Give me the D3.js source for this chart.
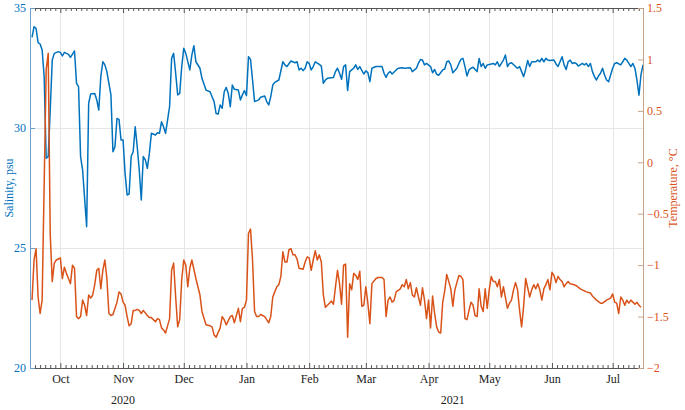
<!DOCTYPE html>
<html>
<head>
<meta charset="utf-8">
<script src="https://cdn.jsdelivr.net/npm/d3@7"></script>
<style>
body { margin: 0; background: #fff; }
text { font-family: "Liberation Serif", "Times New Roman", serif; }
</style>
</head>
<body>
<div id="chart"></div>
<script>

// day offsets are counted from 16 Sep 2020
var startDate = new Date(2020, 8, 16),
endDate = new Date(2021, 6, 16);

// [day, salinity psu]
var salinity = [[1,33.78],[2,34.22],[3,34.15],[4,33.56],[5,33.5],[6,33.25],[7,32.14],[8,28.74],[9,28.81],[10,30.75],[11,32.83],[12,33.11],[14,33.18],[15,33.15],[16,33.0],[17,33.15],[19,33.07],[20,32.94],[22,33.21],[23,31.86],[24,31.72],[25,28.81],[26,28.25],[28,25.89],[29,31.03],[30,31.42],[32,31.44],[33,31.17],[34,30.75],[35,32.14],[36,32.76],[37,32.63],[38,32.35],[39,31.86],[40,31.38],[41,29.01],[42,29.22],[43,30.4],[44,30.36],[45,29.5],[46,29.5],[47,28.11],[48,27.21],[49,27.25],[50,28.81],[51,29.01],[52,30.05],[53,29.22],[54,28.25],[55,27.0],[56,28.81],[57,28.67],[58,28.32],[59,28.94],[60,29.78],[62,29.71],[63,29.8],[64,29.78],[65,30.26],[66,30.05],[67,29.78],[68,30.33],[69,30.89],[70,32.9],[71,33.11],[72,32.28],[73,31.38],[74,31.44],[75,32.56],[76,33.32],[77,33.11],[79,32.42],[80,33.04],[81,33.43],[82,32.76],[84,32.49],[85,32.07],[87,31.58],[89,31.51],[90,31.3],[91,31.1],[92,30.6],[93,30.58],[94,30.96],[95,30.82],[96,31.51],[97,31.69],[98,31.44],[99,30.89],[100,31.79],[101,31.61],[103,31.58],[104,31.17],[105,31.38],[106,31.56],[107,31.35],[108,32.97],[109,32.86],[110,32.0],[111,31.1],[113,31.17],[114,31.28],[116,31.33],[117,31.1],[118,30.96],[119,31.31],[120,31.79],[121,31.9],[123,32.0],[125,32.76],[126,32.63],[127,32.56],[129,32.79],[131,32.72],[132,32.76],[133,32.42],[134,32.49],[135,32.39],[136,32.49],[137,32.76],[138,32.69],[139,32.42],[140,32.56],[141,32.76],[143,32.65],[144,32.58],[145,31.86],[146,32.0],[147,32.07],[150,32.1],[151,32.35],[152,32.49],[153,32.28],[154,32.03],[155,32.56],[156,32.63],[157,31.56],[158,32.35],[159,32.42],[160,32.49],[161,32.63],[162,32.44],[163,32.56],[165,32.25],[166,32.38],[167,32.31],[168,31.93],[169,32.49],[171,32.56],[174,32.56],[175,32.28],[176,32.11],[177,32.28],[178,32.35],[179,32.25],[181,32.42],[182,32.49],[184,32.51],[185,32.49],[188,32.51],[189,32.35],[191,32.49],[192,32.7],[193,32.85],[194,32.83],[195,32.63],[196,32.69],[198,32.56],[199,32.3],[200,32.44],[201,32.24],[202,32.2],[204,32.42],[205,32.46],[206,32.76],[207,32.79],[208,32.63],[209,32.3],[211,32.49],[212,32.69],[213,32.86],[214,32.9],[215,32.56],[216,32.17],[217,32.42],[218,32.49],[219,32.53],[221,32.35],[222,32.9],[223,32.56],[224,32.69],[225,32.49],[226,32.63],[227,32.65],[229,32.69],[230,32.63],[231,32.76],[232,32.56],[234,32.83],[235,33.04],[236,32.56],[237,32.69],[238,32.72],[240,32.56],[241,32.49],[242,32.56],[243,32.35],[244,32.14],[245,32.44],[246,32.81],[247,32.56],[248,32.76],[250,32.76],[251,32.83],[252,32.76],[253,32.9],[254,32.76],[255,32.9],[256,32.83],[257,32.81],[259,32.83],[260,32.67],[261,32.56],[262,32.76],[263,32.97],[264,32.63],[265,32.44],[266,32.76],[267,32.83],[268,32.69],[269,32.72],[270,32.69],[271,32.58],[273,32.69],[274,32.63],[275,32.69],[276,32.56],[277,32.69],[278,32.35],[279,32.14],[280,32.0],[281,32.17],[282,32.28],[283,32.49],[284,32.21],[285,32.0],[286,31.93],[287,32.21],[288,32.49],[289,32.69],[290,32.72],[292,32.63],[293,32.76],[294,32.9],[295,32.83],[296,32.69],[297,32.56],[298,32.69],[299,32.49],[300,32.0],[301,31.37],[302,32.21],[303,32.63]];

// [day, temperature °C]
var temperature = [[1,-1.34],[2,-0.95],[3,-0.84],[4,-1.31],[5,-1.47],[6,-1.34],[8,0.9],[9,1.06],[10,-0.7],[11,-1.16],[12,-0.98],[13,-0.95],[14,-0.94],[15,-0.93],[16,-1.13],[17,-1.02],[18,-1.08],[19,-1.13],[20,-1.18],[21,-1.0],[22,-1.03],[23,-1.5],[24,-1.52],[25,-1.5],[26,-1.34],[27,-1.39],[28,-1.49],[29,-1.29],[30,-1.32],[31,-1.29],[32,-1.19],[33,-1.05],[34,-1.03],[35,-1.23],[36,-1.05],[37,-0.95],[38,-1.13],[39,-1.47],[40,-1.49],[41,-1.48],[43,-1.36],[44,-1.26],[45,-1.28],[46,-1.36],[47,-1.39],[48,-1.5],[49,-1.59],[50,-1.57],[51,-1.44],[52,-1.44],[53,-1.43],[54,-1.44],[55,-1.47],[56,-1.44],[58,-1.49],[59,-1.51],[60,-1.51],[62,-1.55],[63,-1.52],[64,-1.53],[65,-1.61],[66,-1.63],[67,-1.66],[68,-1.59],[69,-1.52],[70,-1.05],[71,-0.98],[72,-1.31],[73,-1.6],[74,-1.53],[75,-1.14],[76,-0.95],[77,-1.0],[78,-1.21],[79,-1.03],[80,-0.95],[82,-1.13],[84,-1.29],[85,-1.45],[87,-1.58],[89,-1.59],[90,-1.6],[91,-1.68],[92,-1.7],[94,-1.61],[95,-1.5],[96,-1.53],[97,-1.58],[99,-1.5],[100,-1.49],[101,-1.56],[103,-1.42],[104,-1.55],[105,-1.42],[106,-1.41],[107,-1.34],[108,-0.69],[109,-0.65],[110,-0.95],[111,-1.45],[112,-1.5],[113,-1.5],[114,-1.48],[115,-1.49],[116,-1.5],[117,-1.53],[118,-1.56],[119,-1.5],[120,-1.31],[121,-1.26],[122,-1.21],[123,-1.19],[124,-1.11],[125,-0.87],[126,-0.97],[127,-0.97],[128,-0.85],[129,-0.84],[130,-0.9],[131,-0.9],[132,-0.94],[133,-1.03],[135,-1.04],[136,-0.97],[137,-0.92],[138,-0.93],[139,-1.05],[140,-0.95],[141,-0.86],[142,-0.95],[143,-0.9],[144,-0.97],[145,-1.29],[146,-1.41],[148,-1.37],[149,-1.35],[150,-1.38],[151,-1.21],[152,-1.05],[153,-1.18],[154,-1.38],[155,-1.0],[156,-0.99],[157,-1.7],[158,-1.18],[159,-1.24],[160,-1.08],[161,-1.1],[162,-1.14],[163,-1.06],[164,-1.4],[165,-1.39],[166,-1.21],[167,-1.37],[168,-1.57],[169,-1.18],[171,-1.13],[172,-1.12],[174,-1.12],[175,-1.14],[176,-1.5],[177,-1.34],[178,-1.31],[179,-1.36],[180,-1.34],[181,-1.26],[183,-1.23],[184,-1.19],[185,-1.21],[186,-1.14],[187,-1.23],[188,-1.17],[189,-1.29],[190,-1.31],[191,-1.22],[192,-1.31],[193,-1.39],[194,-1.22],[195,-1.34],[196,-1.52],[197,-1.34],[198,-1.61],[199,-1.3],[200,-1.47],[201,-1.6],[202,-1.65],[203,-1.66],[204,-1.36],[205,-1.25],[206,-1.09],[207,-1.16],[208,-1.23],[209,-1.4],[210,-1.24],[212,-1.1],[213,-1.11],[214,-1.14],[215,-1.52],[216,-1.53],[217,-1.44],[218,-1.36],[219,-1.39],[220,-1.49],[221,-1.5],[222,-1.23],[223,-1.4],[224,-1.45],[225,-1.23],[226,-1.42],[227,-1.24],[228,-1.11],[229,-1.16],[230,-1.16],[231,-1.21],[232,-1.14],[233,-1.31],[234,-1.21],[236,-1.42],[237,-1.37],[238,-1.34],[239,-1.24],[240,-1.17],[241,-1.24],[242,-1.44],[243,-1.6],[244,-1.4],[245,-1.13],[247,-1.31],[248,-1.24],[249,-1.19],[250,-1.23],[251,-1.18],[252,-1.24],[253,-1.34],[254,-1.23],[255,-1.19],[256,-1.14],[257,-1.24],[258,-1.07],[259,-1.1],[260,-1.17],[261,-1.11],[262,-1.14],[263,-1.16],[264,-1.21],[265,-1.18],[266,-1.16],[267,-1.18],[269,-1.19],[270,-1.2],[272,-1.23],[273,-1.24],[275,-1.26],[277,-1.27],[278,-1.3],[280,-1.34],[282,-1.37],[283,-1.37],[285,-1.34],[287,-1.32],[288,-1.28],[289,-1.36],[290,-1.37],[291,-1.47],[292,-1.31],[293,-1.34],[294,-1.39],[295,-1.34],[296,-1.37],[297,-1.34],[299,-1.38],[300,-1.36],[301,-1.39],[302,-1.41]];

var salTicks = [20, 25, 30, 35];
var tempTicks = [-2, -1.5, -1, -0.5, 0, 0.5, 1, 1.5];
var yearLabels = [["2020", new Date(2020, 10, 1)], ["2021", new Date(2021, 3, 13)]];

var blue = "#0072BD", orange = "#D95319";
var serif = "'Liberation Serif', 'Times New Roman', serif";

var margin = {top: 8, right: 42, bottom: 42, left: 30},
width = 685 - margin.left - margin.right,
height = 410 - margin.top - margin.bottom;

var x = d3.scaleTime().domain([startDate, endDate]).range([0, width]);
var ySal = d3.scaleLinear().domain([20, 35]).range([height, 0]);
var yTemp = d3.scaleLinear().domain([-2, 1.5]).range([height, 0]);

var svg = d3.select("#chart")
.append("svg")
.attr("width", width + margin.left + margin.right)
.attr("height", height + margin.top + margin.bottom)
.style("background", "#fff")
.append("g")
.attr("transform", "translate(" + margin.left + "," + margin.top + ")");

var months = d3.timeMonth.range(d3.timeMonth.ceil(startDate), endDate);

// minor ticks: 12 per month
var minor = [];
d3.timeMonth.range(new Date(2020, 8, 1), new Date(2021, 7, 1)).forEach(function(m) {
  var next = d3.timeMonth.offset(m, 1);
  for (var k = 1; k < 12; k++) {
    var t = new Date(+m + k * (next - m) / 12);
    if (t > startDate && t < endDate) minor.push(t);
  }
});

// grid
svg.append("g")
.selectAll("line")
.data(months)
.enter().append("line")
.attr("x1", function(d) { return Math.round(x(d)) + 0.5; })
.attr("x2", function(d) { return Math.round(x(d)) + 0.5; })
.attr("y1", 0)
.attr("y2", height)
.attr("stroke", "#e6e6e6");

svg.append("g")
.selectAll("line")
.data([25, 30])
.enter().append("line")
.attr("x1", 0)
.attr("x2", width)
.attr("y1", function(d) { return Math.round(ySal(d)) + 0.5; })
.attr("y2", function(d) { return Math.round(ySal(d)) + 0.5; })
.attr("stroke", "#e6e6e6");

// series
var line = function(y) {
  return d3.line()
  .x(function(d) { return x(d3.timeDay.offset(startDate, d[0])); })
  .y(function(d) { return y(d[1]); });
};

svg.append("path")
.datum(salinity)
.attr("fill", "none")
.attr("stroke", blue)
.attr("stroke-width", 1.5)
.attr("stroke-linejoin", "round")
.attr("d", line(ySal));

svg.append("path")
.datum(temperature)
.attr("fill", "none")
.attr("stroke", orange)
.attr("stroke-width", 1.5)
.attr("stroke-linejoin", "round")
.attr("d", line(yTemp));

// x axes (bottom and top)
var xBottom = svg.append("g")
.attr("class", "x axis")
.attr("transform", "translate(0," + height + ")")
.call(d3.axisBottom(x).tickValues(months).tickFormat(d3.timeFormat("%b")).tickSize(-5).tickSizeOuter(0).tickPadding(6));

svg.append("g")
.attr("transform", "translate(0," + height + ")")
.call(d3.axisBottom(x).tickValues(minor).tickFormat("").tickSize(-3).tickSizeOuter(0));

svg.append("g")
.call(d3.axisTop(x).tickValues(months).tickFormat("").tickSize(-5).tickSizeOuter(0));

svg.append("g")
.call(d3.axisTop(x).tickValues(minor).tickFormat("").tickSize(-3).tickSizeOuter(0));

svg.selectAll(".tick line").attr("stroke", "#555");
svg.selectAll(".domain").attr("stroke", "#555");

xBottom.attr("font-family", serif).attr("font-size", 12);
xBottom.selectAll("text")
.style("font-family", serif)
.attr("fill", "#222");

svg.append("g")
.selectAll("text")
.data(yearLabels)
.enter().append("text")
.attr("x", function(d) { return x(d[1]); })
.attr("y", height + 36)
.attr("text-anchor", "middle")
.attr("font-size", 12)
.attr("fill", "#222")
.text(function(d) { return d[0]; });

// left axis
var yLeft = svg.append("g")
.attr("class", "y axis")
.call(d3.axisLeft(ySal).tickValues(salTicks).tickSize(-5).tickSizeOuter(0).tickPadding(4));

yLeft.attr("font-family", serif).attr("font-size", 12);
yLeft.select(".domain").attr("stroke", "#6a9fcb");
yLeft.selectAll(".tick line").attr("stroke", "#6a9fcb");
yLeft.selectAll("text").style("font-family", serif).attr("fill", blue);

// right axis
var yRight = svg.append("g")
.attr("class", "y axis")
.attr("transform", "translate(" + width + ",0)")
.call(d3.axisRight(yTemp).tickValues(tempTicks).tickFormat(d3.format("")).tickSize(-5).tickSizeOuter(0).tickPadding(4));

yRight.attr("font-family", serif).attr("font-size", 12);
yRight.select(".domain").attr("stroke", "#c7a58c");
yRight.selectAll(".tick line").attr("stroke", "#c7a58c");
yRight.selectAll("text").style("font-family", serif).attr("fill", orange);

// axis titles
svg.append("text")
.attr("transform", "translate(" + (-21) + "," + (height / 2) + ") rotate(-90)")
.attr("text-anchor", "middle")
.attr("dy", "0.35em")
.attr("font-size", 12)
.attr("fill", blue)
.text("Salinity, psu");

svg.append("text")
.attr("transform", "translate(" + (width + 30) + "," + (height / 2) + ") rotate(-90)")
.attr("text-anchor", "middle")
.attr("dy", "0.35em")
.attr("font-size", 12)
.attr("fill", orange)
.text("Temperature, °C");

</script>
</body>
</html>
